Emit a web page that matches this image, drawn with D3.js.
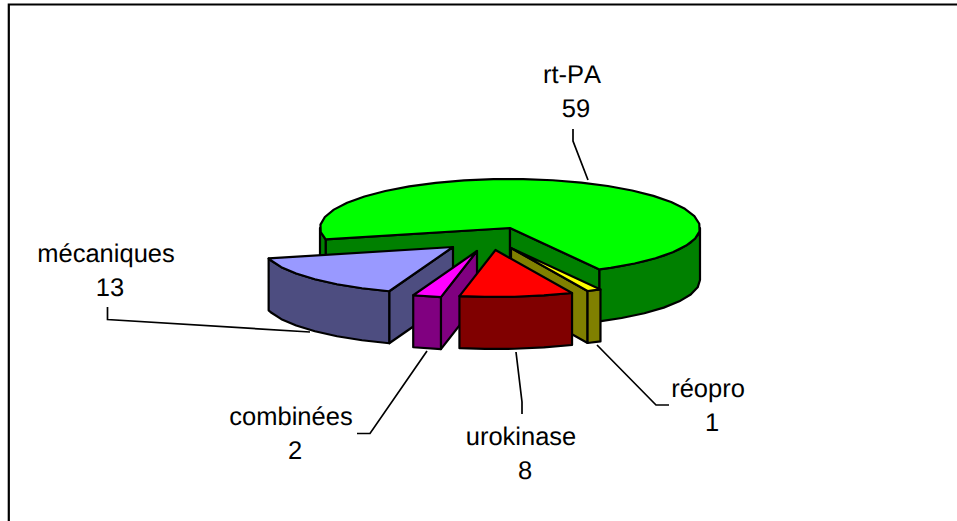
<!DOCTYPE html>
<html lang="fr">
  <head>
    <meta charset="UTF-8" />
    <title>Pie</title>
    <style type="text/css">
      html, body { margin: 0; padding: 0; background: #fff; }
      svg { display: block; }
      text { font-family: 'Liberation Sans', Arial, sans-serif; font-size: 25.5px; font-kerning: none; text-rendering: geometricPrecision; fill: #000; text-anchor: middle; }
    </style>
    <script src="https://cdn.jsdelivr.net/npm/d3@7"></script>
  </head>
  <body>
    <div class="d3Chart"></div>
    <script type="text/javascript">
      // data
      var categories = ['rt-PA', 'réopro', 'urokinase', 'combinées', 'mécaniques']
      var values = [59, 1, 8, 2, 13]
      var topColors = ['#00ff00', '#ffff00', '#ff0000', '#ff00ff', '#9999ff']

      // layout of the exploded slices and their labels, same order as categories
      var explode = [[0, 0], [1, 20], [-14.5, 22], [-33, 23], [-57, 19]]
      var labelPos = [[572, 83], [708, 397], [521, 445], [291, 425], [106, 262]]
      var leaders = [
        [[573, 129], [573, 141], [588, 180]],
        [[597, 345], [656, 405], [669, 405]],
        [[516, 352], [522, 402], [522, 414]],
        [[427, 351], [370, 433.5], [357, 433.5]],
        [[310, 332], [107.5, 319.5], [107.5, 307]]
      ]
      var drawOrder = [0, 1, 4, 3, 2] // back to front

      var width = 957
      var height = 521
      var depth = 52
      var step = (9 * Math.PI) / 180

      var svg = d3.select('.d3Chart').append('svg').attr('width', width).attr('height', height)

      // frame only has top and left sides
      svg
        .append('path')
        .attr('d', `M8.8,${height}V4.5H${width}`)
        .attr('fill', 'none')
        .attr('stroke', '#000')
        .attr('stroke-width', 2.2)

      // unit circle -> screen, back half is a bit flatter than the front
      var xScale = d3.scaleLinear().domain([-1, 1]).range([320, 700])
      var yScale = d3.scaleLinear().domain([-1, 0, 1]).range([275, 228, 179])

      // starts at 256deg, clockwise, in the order of the data
      var pie = d3
        .pie()
        .sort(null)
        .startAngle((256 * Math.PI) / 180)
        .endAngle((616 * Math.PI) / 180)
      var slices = pie(values)

      var line = d3.line()

      function rim(a, off, drop) {
        return [xScale(Math.sin(a)) + off[0], yScale(Math.cos(a)) + off[1] + (drop || 0)]
      }

      function apex(off, drop) {
        return [xScale(0) + off[0], yScale(0) + off[1] + (drop || 0)]
      }

      function arcAngles(a0, a1) {
        var list = d3.range(a0, a1, step)
        list.push(a1)
        return list
      }

      // parts of [a0, a1] that lie on the front half of the pie
      function frontRanges(a0, a1) {
        var out = []
        ;[
          [Math.PI / 2, (3 * Math.PI) / 2],
          [(5 * Math.PI) / 2, (7 * Math.PI) / 2]
        ].forEach((r) => {
          var s = Math.max(a0, r[0])
          var e = Math.min(a1, r[1])
          if (e > s) out.push([s, e])
        })
        return out
      }

      function sideColor(c) {
        var rgb = d3.rgb(c)
        return d3.rgb(rgb.r / 2, rgb.g / 2, rgb.b / 2).formatHex()
      }

      var groups = svg
        .selectAll('g.slice')
        .data(drawOrder.map((i) => ({ arc: slices[i], idx: i })))
        .enter()
        .append('g')
        .attr('class', 'slice')
        .attr('stroke', '#000')
        .attr('stroke-width', 2.2)
        .attr('stroke-linejoin', 'round')

      groups.each(function (d) {
        var g = d3.select(this)
        var off = explode[d.idx]
        var a0 = d.arc.startAngle
        var a1 = d.arc.endAngle
        var dark = sideColor(topColors[d.idx])

        // cut walls, only the ones facing the viewer
        var cuts = []
        if (Math.sin(a0) < 0) cuts.push(a0)
        if (Math.sin(a1) > 0) cuts.push(a1)
        cuts.forEach((a) => {
          var pts = [apex(off), rim(a, off), rim(a, off, depth), apex(off, depth)]
          g.append('path')
            .attr('d', line(pts) + 'Z')
            .attr('fill', dark)
        })

        // outer wall
        frontRanges(a0, a1).forEach((r) => {
          var angles = arcAngles(r[0], r[1])
          var pts = angles.map((a) => rim(a, off)).concat(angles.slice().reverse().map((a) => rim(a, off, depth)))
          g.append('path')
            .attr('d', line(pts) + 'Z')
            .attr('fill', dark)
        })

        // top face
        var topPts = [apex(off)].concat(arcAngles(a0, a1).map((a) => rim(a, off)))
        g.append('path')
          .attr('d', line(topPts) + 'Z')
          .attr('fill', topColors[d.idx])
      })

      // leader lines
      svg
        .selectAll('path.leader')
        .data(leaders)
        .enter()
        .append('path')
        .attr('class', 'leader')
        .attr('d', (d) => line(d))
        .attr('fill', 'none')
        .attr('stroke', '#000')
        .attr('stroke-width', 1.7)

      // labels
      var labels = svg.selectAll('g.label').data(categories).enter().append('g').attr('class', 'label')
      labels
        .append('text')
        .attr('x', (d, i) => labelPos[i][0])
        .attr('y', (d, i) => labelPos[i][1])
        .text((d) => d)
      labels
        .append('text')
        .attr('x', (d, i) => labelPos[i][0] + 4)
        .attr('y', (d, i) => labelPos[i][1] + 33.5)
        .text((d, i) => values[i])
    </script>
  </body>
</html>
